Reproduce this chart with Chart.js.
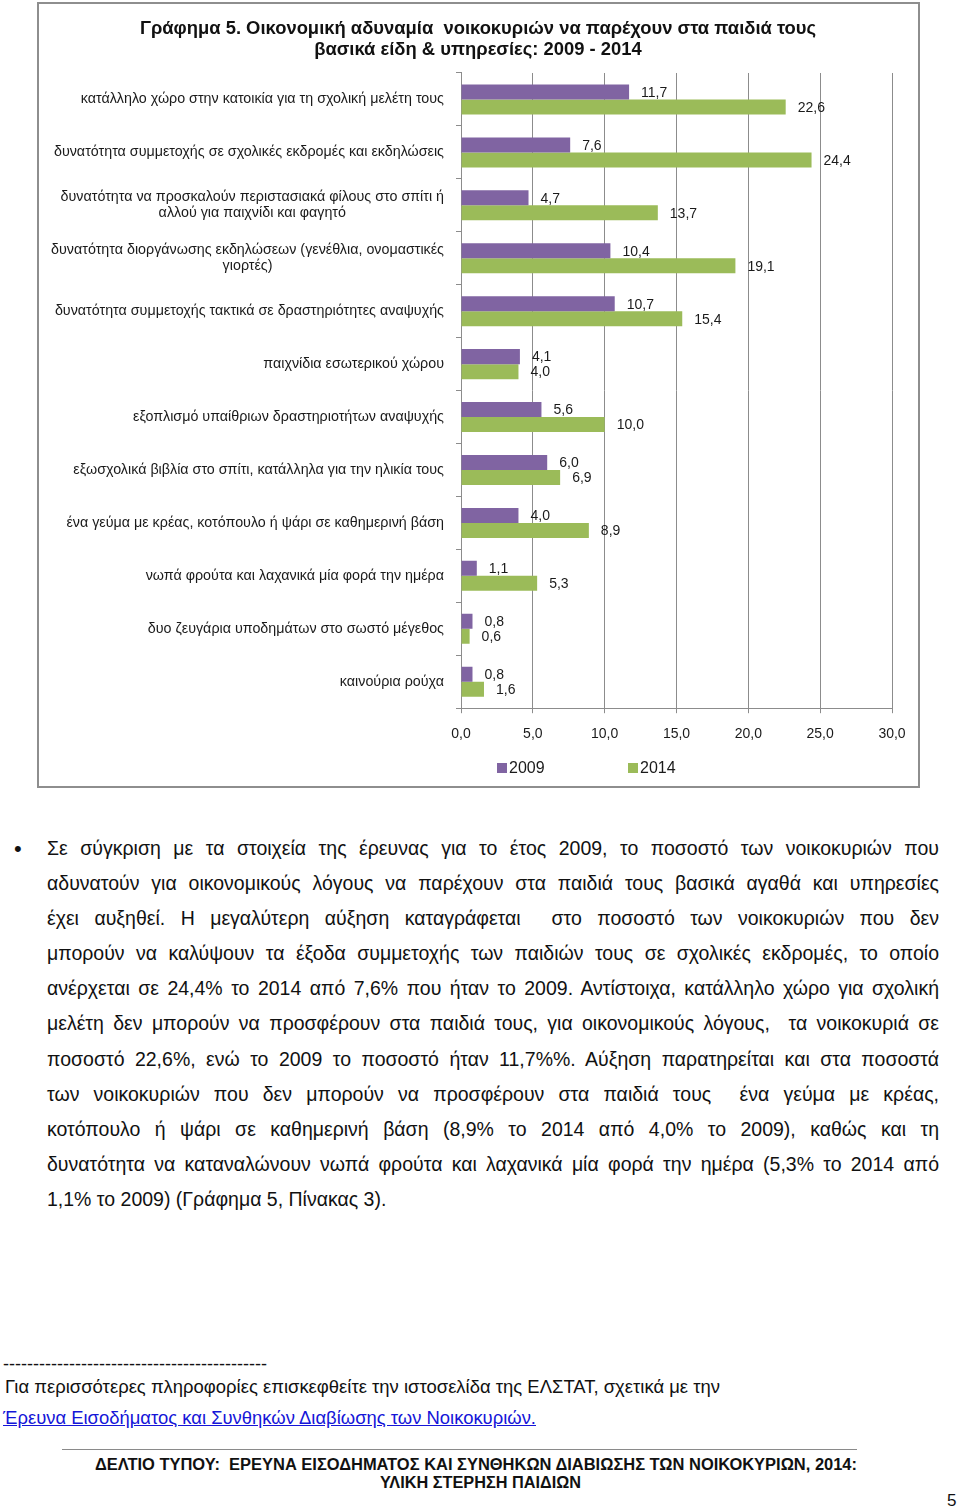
<!DOCTYPE html>
<html lang="el">
<head>
<meta charset="utf-8">
<script src="https://cdn.jsdelivr.net/npm/chart.js@4.4.1/dist/chart.umd.min.js"></script>
<style>
  html, body { margin: 0; padding: 0; background: #fff; }
  body { width: 960px; height: 1512px; position: relative; overflow: hidden; font-family: "Liberation Sans", Arial, sans-serif; color: #111; }
  #box { position: absolute; left: 37px; top: 2px; width: 883px; height: 786px; box-sizing: border-box; border: 2px solid #8e8e8e; }
  #chart { position: absolute; left: 37px; top: 0; }
  .para { position: absolute; left: 47px; top: 831px; width: 892px; font-family: "Liberation Sans Narrow", "Liberation Sans", Arial, sans-serif; font-size: 19.5px; color: #111; }
  .para .ln { height: 35.1px; line-height: 35.1px; white-space: nowrap; }
  .bullet { position: absolute; left: -33px; top: 0; line-height: 35.1px; font-family: "Liberation Sans", Arial, sans-serif; font-size: 22px; }
  .fit { position: absolute; white-space: nowrap; transform-origin: 0 50%; }
  .note { font-family: "Liberation Sans Narrow", "Liberation Sans", Arial, sans-serif; font-size: 17.5px; color: #111; }
  .link { color: #1515d8; text-decoration: underline; }
  .foot { font-family: "Liberation Sans Narrow", "Liberation Sans", Arial, sans-serif; font-weight: bold; font-size: 16px; color: #111; }
  #rule { position: absolute; left: 62px; top: 1449px; width: 795px; height: 0; border-top: 1px solid #8a8a8a; }
</style>
</head>
<body>
<div id="box"></div>
<canvas id="chart" width="882" height="790"></canvas>

<div class="para">
  <span class="bullet">•</span>
  <div class="ln j"><span>Σε σύγκριση με τα στοιχεία της έρευνας για το έτος 2009, το ποσοστό των νοικοκυριών που</span></div>
  <div class="ln j"><span>αδυνατούν για οικονομικούς λόγους να παρέχουν στα παιδιά τους βασικά αγαθά και υπηρεσίες</span></div>
  <div class="ln j"><span>έχει αυξηθεί. Η μεγαλύτερη αύξηση καταγράφεται &nbsp;στο ποσοστό των νοικοκυριών που δεν</span></div>
  <div class="ln j"><span>μπορούν να καλύψουν τα έξοδα συμμετοχής των παιδιών τους σε σχολικές εκδρομές, το οποίο</span></div>
  <div class="ln j"><span>ανέρχεται σε 24,4% το 2014 από 7,6% που ήταν το 2009. Αντίστοιχα, κατάλληλο χώρο για σχολική</span></div>
  <div class="ln j"><span>μελέτη δεν μπορούν να προσφέρουν στα παιδιά τους, για οικονομικούς λόγους, &nbsp;τα νοικοκυριά σε</span></div>
  <div class="ln j"><span>ποσοστό 22,6%, ενώ το 2009 το ποσοστό ήταν 11,7%%. Αύξηση παρατηρείται και στα ποσοστά</span></div>
  <div class="ln j"><span>των νοικοκυριών που δεν μπορούν να προσφέρουν στα παιδιά τους &nbsp;ένα γεύμα με κρέας,</span></div>
  <div class="ln j"><span>κοτόπουλο ή ψάρι σε καθημερινή βάση (8,9% το 2014 από 4,0% το 2009), καθώς και τη</span></div>
  <div class="ln j"><span>δυνατότητα να καταναλώνουν νωπά φρούτα και λαχανικά μία φορά την ημέρα (5,3% το 2014 από</span></div>
  <div class="ln"><span>1,1% το 2009) (Γράφημα 5, Πίνακας 3).</span></div>
</div>

<div class="fit note" data-w="264" style="left:3px; top:1354px;">--------------------------------------------</div>
<div class="fit note" data-w="715" style="left:5px; top:1377px;">Για περισσότερες πληροφορίες επισκεφθείτε την ιστοσελίδα της ΕΛΣΤΑΤ, σχετικά με την</div>
<div class="fit note link" data-w="533" style="left:3px; top:1408px;">Έρευνα Εισοδήματος και Συνθηκών Διαβίωσης των Νοικοκυριών.</div>
<div id="rule"></div>
<div class="fit foot" data-w="762" style="left:95px; top:1456px;">ΔΕΛΤΙΟ ΤΥΠΟΥ: &nbsp;ΕΡΕΥΝΑ ΕΙΣΟΔΗΜΑΤΟΣ ΚΑΙ ΣΥΝΘΗΚΩΝ ΔΙΑΒΙΩΣΗΣ ΤΩΝ ΝΟΙΚΟΚΥΡΙΩΝ, 2014:</div>
<div class="fit foot" data-w="201" style="left:380px; top:1474px;">ΥΛΙΚΗ ΣΤΕΡΗΣΗ ΠΑΙΔΙΩΝ</div>
<div class="fit note" style="left:947px; top:1491px; font-size:17px;">5</div>

<script>
const categories = [
  "κατάλληλο χώρο στην κατοικία για τη σχολική μελέτη τους",
  "δυνατότητα συμμετοχής σε σχολικές εκδρομές και εκδηλώσεις",
  ["δυνατότητα να προσκαλούν περιστασιακά φίλους στο σπίτι ή", "αλλού για παιχνίδι και φαγητό"],
  ["δυνατότητα διοργάνωσης εκδηλώσεων (γενέθλια, ονομαστικές", "γιορτές)"],
  "δυνατότητα συμμετοχής τακτικά σε δραστηριότητες αναψυχής",
  "παιχνίδια εσωτερικού χώρου",
  "εξοπλισμό υπαίθριων δραστηριοτήτων αναψυχής",
  "εξωσχολικά βιβλία στο σπίτι, κατάλληλα για την ηλικία τους",
  "ένα γεύμα με κρέας, κοτόπουλο ή ψάρι σε καθημερινή βάση",
  "νωπά φρούτα και λαχανικά μία φορά την ημέρα",
  "δυο ζευγάρια υποδημάτων στο σωστό μέγεθος",
  "καινούρια ρούχα"
];
const values2009 = [11.7, 7.6, 4.7, 10.4, 10.7, 4.1, 5.6, 6.0, 4.0, 1.1, 0.8, 0.8];
const values2014 = [22.6, 24.4, 13.7, 19.1, 15.4, 4.0, 10.0, 6.9, 8.9, 5.3, 0.6, 1.6];
const seriesNames = ["2009", "2014"];
const xMin = 0, xMax = 30, xStep = 5;

const title = ["Γράφημα 5. Οικονομική αδυναμία  νοικοκυριών να παρέχουν στα παιδιά τους",
               "βασικά είδη & υπηρεσίες: 2009 - 2014"];

function comma(v) { return Number(v).toFixed(1).replace(".", ","); }

const FONT = '"Liberation Sans", Arial, sans-serif';
const gridGray = "#8c8c8c";

// centre the title on the whole box, not on the padded area
const titleFullWidth = {
  id: "titleFullWidth",
  afterLayout(chart) {
    const t = chart.titleBlock;
    if (t) { t.left = 0; t.right = chart.width; t.width = chart.width; }
  }
};

// category labels: block right aligned, lines centred inside the block (like Excel)
const yLabels = {
  id: "yLabels",
  afterDraw(chart) {
    const ctx = chart.ctx, y = chart.scales.y;
    ctx.save();
    ctx.font = "14.3px " + FONT;
    ctx.fillStyle = "#1a1a1a";
    ctx.textBaseline = "middle";
    ctx.textAlign = "center";
    categories.forEach((lab, i) => {
      const lines = Array.isArray(lab) ? lab : [lab];
      const w = Math.max(...lines.map(l => ctx.measureText(l).width));
      const cy = y.getPixelForTick(i);
      const right = y.right - 17;
      lines.forEach((l, j) => {
        ctx.fillText(l, right - w / 2, cy + (j - (lines.length - 1) / 2) * 16);
      });
    });
    ctx.restore();
  }
};

const barValues = {
  id: "barValues",
  afterDatasetsDraw(chart) {
    const ctx = chart.ctx;
    ctx.save();
    ctx.font = "14px " + FONT;
    ctx.fillStyle = "#1a1a1a";
    ctx.textBaseline = "middle";
    ctx.textAlign = "left";
    chart.data.datasets.forEach((ds, di) => {
      chart.getDatasetMeta(di).data.forEach((bar, i) => {
        ctx.fillText(comma(ds.data[i]), bar.x + 12, bar.y + 1);
      });
    });
    ctx.restore();
  }
};

const bottomLegend = {
  id: "bottomLegend",
  afterDraw(chart) {
    const ctx = chart.ctx;
    const xs = [460, 591];
    const yc = 768;
    ctx.save();
    ctx.font = "16px " + FONT;
    ctx.textBaseline = "middle";
    ctx.textAlign = "left";
    chart.data.datasets.forEach((ds, i) => {
      ctx.fillStyle = ds.backgroundColor;
      ctx.fillRect(xs[i], yc - 5, 10, 10);
      ctx.fillStyle = "#1a1a1a";
      ctx.fillText(ds.label, xs[i] + 12, yc + 1);
    });
    ctx.restore();
  }
};

new Chart(document.getElementById("chart"), {
  type: "bar",
  data: {
    labels: categories,
    datasets: [
      { label: seriesNames[0], data: values2009, backgroundColor: "#8064A2" },
      { label: seriesNames[1], data: values2014, backgroundColor: "#9BBB59" }
    ]
  },
  options: {
    indexAxis: "y",
    responsive: false,
    animation: false,
    categoryPercentage: 0.567,
    barPercentage: 1.0,
    layout: { padding: { left: 0, right: 27, top: 0, bottom: 34 } },
    plugins: {
      legend: { display: false },
      tooltip: { enabled: false },
      title: {
        display: true,
        text: title,
        color: "#111",
        font: { family: FONT, size: 18.4, weight: "bold", lineHeight: 1.141 },
        padding: { top: 18.5, bottom: 12.5 }
      }
    },
    scales: {
      x: {
        min: xMin, max: xMax,
        ticks: { stepSize: xStep, color: "#1a1a1a", font: { family: FONT, size: 14 }, padding: 13,
                 callback: v => comma(v) },
        grid: { color: gridGray, lineWidth: 1, tickLength: 5 },
        border: { color: gridGray }
      },
      y: {
        ticks: { display: false },
        grid: { drawOnChartArea: false, color: gridGray, tickLength: 5 },
        border: { color: gridGray },
        afterFit(scale) { scale.width = 424; }
      }
    }
  },
  plugins: [titleFullWidth, yLabels, barValues, bottomLegend]
});

// text layout: justify paragraph lines, fit footer lines to their widths
function layoutText() {
  document.querySelectorAll(".para .j").forEach(ln => {
    const span = ln.firstElementChild;
    span.style.wordSpacing = "0px";
    span.style.letterSpacing = "0px";
    const text = span.textContent;
    const spaces = (text.match(/[ \u00a0]/g) || []).length;
    let w = span.getBoundingClientRect().width;
    if (w > 892) {
      const ls = (892 - w) / text.length - 0.05;
      span.style.letterSpacing = ls + "px";
      w = span.getBoundingClientRect().width;
    }
    span.style.wordSpacing = ((892 - w) / spaces) + "px";
  });
  document.querySelectorAll(".fit[data-w]").forEach(el => {
    el.style.transform = "none";
    const w = el.getBoundingClientRect().width;
    el.style.transform = "scaleX(" + (Number(el.dataset.w) / w) + ")";
  });
}
layoutText();
if (document.fonts && document.fonts.ready) document.fonts.ready.then(layoutText);
</script>
</body>
</html>
